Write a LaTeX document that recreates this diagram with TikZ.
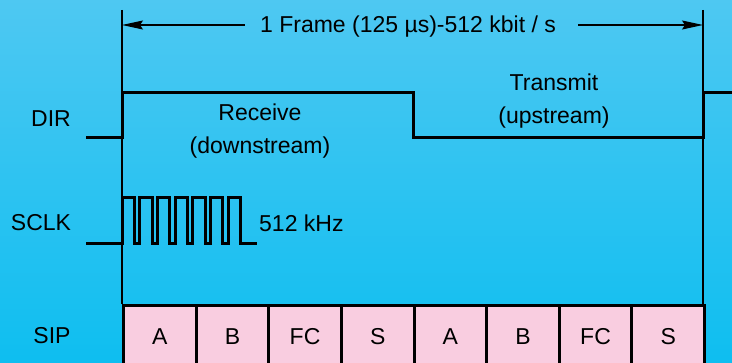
\documentclass[tikz,border=0pt]{standalone}
\usepackage{fontspec}
\setmainfont{Liberation Sans}
\usetikzlibrary{arrows.meta}
\definecolor{bgtop}{RGB}{78,200,242}
\definecolor{bgbot}{RGB}{14,190,240}
\definecolor{cellpink}{RGB}{249,205,224}
\begin{document}
\begin{tikzpicture}[x=1pt,y=-1pt,
  lbl/.style={font=\fontsize{23}{33}\selectfont, inner sep=0pt, text=black, align=center},
  sig/.style={line width=3pt, line join=miter, black},
  guide/.style={line width=1.2pt, black},
  dimarrow/.style={line width=1.2pt, black, -{Stealth[length=21pt,width=9pt,inset=3pt]}},
  cell/.style={draw=black, line width=3pt, fill=cellpink, minimum width=72.625pt, minimum height=62pt, anchor=north west, inner sep=0pt, font=\fontsize{23}{27}\selectfont}]
\fill[top color=bgtop, bottom color=bgbot] (0,0) rectangle (732,363);
\useasboundingbox (0,0) rectangle (732,363);

% guide lines
\coordinate (vLtop) at (122,10);
\coordinate (vLbot) at (122,304);
\coordinate (vRtop) at (703,10);
\coordinate (vRbot) at (703,304);
\draw[guide] (vLtop) -- (vLbot);
\draw[guide] (vRtop) -- (vRbot);

% frame label and arrows
\node[lbl] (frame) at (408,27) {1 Frame (125 µs)-512 kbit / s};
\coordinate (fl) at (122,25);
\coordinate (fr) at (703,25);
\draw[dimarrow] ([xshift=-15pt]frame.west |- fl) -- (fl);
\draw[dimarrow] ([xshift=22pt]frame.east |- fr) -- (fr);

% signal labels
\node[lbl] (dir) at (51,118.5) {DIR};
\node[lbl] (sclk) at (41,223) {SCLK};
\node[lbl] (sip) at (52,336) {SIP};

% DIR waveform
\draw[sig] (86,138) -- (122,138) -- (122,93) -- (413,93) -- (413,138) -- (703,138) -- (703,93) -- (734,93);
\node[lbl] (recv) at (260,131) {Receive\\(downstream)};
\node[lbl] (trans) at (554,101) {Transmit\\(upstream)};

% SCLK waveform
\draw[sig] (86,244) foreach \i in {0,...,6} { -- ({122+\i*17.7},244) -- ({122+\i*17.7},198) -- ({134.3+\i*17.7},198) -- ({134.3+\i*17.7},244) } -- (257,244);
\node[lbl, anchor=west] (khz) at (259,223) {512 kHz};

% SIP cells
\foreach \t [count=\i] in {A,B,FC,S,A,B,FC,S} {
  \node[cell] (c\i) at ({122+(\i-1)*72.625},304) {\t};
}
\end{tikzpicture}
\end{document}
